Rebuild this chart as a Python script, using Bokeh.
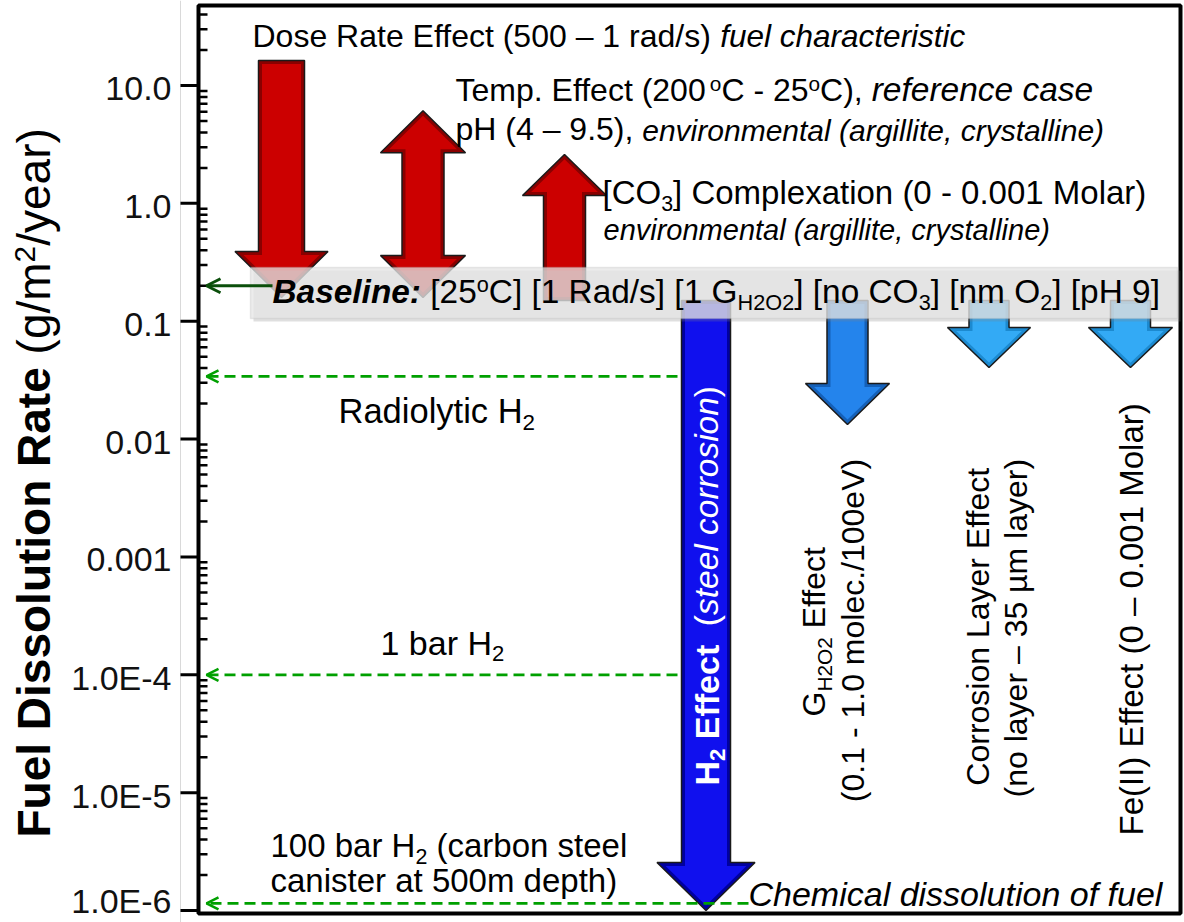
import math
from bokeh.plotting import figure
from bokeh.models import Range1d, Label, Arrow, OpenHead, BoxAnnotation, LogScale
from bokeh.embed import file_html
from bokeh.resources import INLINE

# ---------------- data ----------------
effects = ["Dose Rate Effect", "Temp. / pH Effect", "[CO3] Complexation", "H2 Effect",
           "G(H2O2) Effect", "Corrosion Layer Effect", "Fe(II) Effect"]
effect_pos = [0, 1, 2, 3, 4, 5, 6]
effect_high = [16.3, 6.1, 2.6, 0.15, 0.15, 0.15, 0.15]
effect_low = [0.159, 0.159, 0.15, 1.0e-6, 0.0133, 0.0405, 0.0405]
effect_dir = ["down", "both", "up", "down", "down", "down", "down"]
baseline_rate = 0.2
h2_cases = ["Radiolytic H2", "1 bar H2", "100 bar H2"]
h2_rates = [0.034, 1.0e-4, 1.15e-6]
tick_values = [1e-6, 1e-5, 1e-4, 1e-3, 1e-2, 1e-1, 1.0, 10.0]
tick_labels = ["1.0E-6", "1.0E-5", "1.0E-4", "0.001", "0.01", "0.1", "1.0", "10.0"]

# ---------------- layout (page pixels) ----------------
FIG_W, FIG_H = 1184, 922
PXU = 141.5          # px per category step
PX_C0 = 281          # page x of first category
PYD = 117.86         # px per decade
PY_10 = 85           # page y of the value 10
FONT = "Liberation Sans"
MID = 0.35           # baseline -> middle of the text box, in em


def X(px):
    return (px - PX_C0) / PXU


def Y(py):
    return 10 ** (1 - (py - PY_10) / PYD)


FR_L, FR_R, FR_T, FR_B = 198, 1180, 5, 913   # plot box

# arrow styles
SHAFT_PX = [46, 42, 42, 49, 41, 40, 40]
HEAD_PX = [93, 85, 84, 98, 84, 83, 84]
HEADLEN_PX = [46, 42, 41, 48, 41, 40, 40]
RIM = ["#8A0000", "#8A0000", "#8A0000", "#0000A0", "#1460B8", "#1C8AD0", "#1C8AD0"]
FILL = ["#CC0000", "#CC0000", "#CC0000", "#1010EE", "#2484EC", "#33AAF5", "#33AAF5"]


def arrow_shape(cx, lo, hi, kind, sw, hw, hl, d=0.0):
    alpha = math.atan2(hw, hl)
    ts = d / math.sin(alpha) if d else 0.0
    hl2 = hl - d - ts
    hw2 = hl2 * math.tan(alpha)
    sw2 = sw - d
    cu = cx * PXU
    vlo, vhi = math.log10(lo) * PYD, math.log10(hi) * PYD
    right = []
    if kind in ("up", "both"):
        t = vhi - ts
        b = t - hl2
        right += [(0.0, t), (hw2, b), (sw2, b)]
    else:
        right += [(sw2, vhi - d)]
    if kind in ("down", "both"):
        t = vlo + ts
        b = t + hl2
        right += [(sw2, b), (hw2, b), (0.0, t)]
    else:
        right += [(sw2, vlo + d)]
    left = [(-dx, v) for dx, v in reversed(right) if dx != 0.0]
    pts = right + left
    xs = [(cu + dx) / PXU for dx, v in pts]
    ys = [10 ** (v / PYD) for dx, v in pts]
    return xs, ys


# text widths (Arial / Liberation Sans metrics, 1/1000 em)
_REG = {' ': 278, '(': 333, ')': 333, ',': 278, '-': 333, '.': 278, '/': 278, ':': 278,
        '[': 278, ']': 278, '–': 556, 'µ': 556,
        'A': 667, 'B': 667, 'C': 722, 'D': 722, 'E': 667, 'F': 611, 'G': 778, 'H': 722,
        'I': 278, 'L': 556, 'M': 833, 'O': 778, 'R': 722, 'T': 611, 'V': 667,
        'a': 556, 'b': 556, 'c': 500, 'd': 556, 'e': 556, 'f': 278, 'g': 556, 'h': 556,
        'i': 222, 'l': 222, 'm': 833, 'n': 556, 'o': 556, 'p': 556, 'r': 333, 's': 500,
        't': 278, 'u': 556, 'v': 500, 'x': 500, 'y': 500}
_BOLD = {' ': 278, '(': 333, ')': 333, ':': 333, '[': 333, ']': 333, 'B': 722, 'D': 722,
         'E': 667, 'F': 611, 'H': 722, 'R': 722, 'a': 556, 'c': 556, 'e': 556, 'f': 333,
         'i': 278, 'l': 278, 'n': 611, 'o': 611, 's': 556, 't': 333, 'u': 611}


def tw(text, style, size):
    tbl = _BOLD if "bold" in style else _REG
    return sum(tbl.get(ch, 556) for ch in text) * size / 1000.0


def run(t, size, style="normal"):
    return (t, style, size, 0.0)


def sub(t, size, style="normal"):
    return (t, style, size * 0.65, -0.2 * size)


def sup(t, size, style="normal"):
    return (t, style, size * 0.65, 0.33 * size)


def add_rich(p, px, py, runs, color="black", vertical=False, center=False):
    """Place runs of text along a common baseline at page position (px, py)."""
    widths = [tw(t, st, sz) for t, st, sz, rise in runs]
    pos = -sum(widths) / 2 if center else 0.0
    for (t, st, sz, rise), w in zip(runs, widths):
        stripped = t.lstrip(" ")
        lead = tw(" " * (len(t) - len(stripped)), st, sz)
        s = stripped.rstrip(" ")
        if s:
            along = pos + lead
            up = rise + MID * sz
            if vertical:
                kw = dict(x_offset=-up, y_offset=along, angle=math.pi / 2)
            else:
                kw = dict(x_offset=along, y_offset=up)
            p.add_layout(Label(x=X(px), y=Y(py), text=s, text_font=FONT,
                               text_font_size=f"{sz:.1f}px", text_font_style=st,
                               text_color=color, text_baseline="middle",
                               text_align="left", **kw))
        pos += w


# ---------------- figure (frame = whole canvas) ----------------
p = figure(width=FIG_W, height=FIG_H, y_axis_type="log",
           x_range=Range1d(X(0), X(FIG_W)), y_range=Range1d(Y(FIG_H), Y(0)),
           x_axis_location=None, y_axis_location=None,
           output_backend="svg", toolbar_location=None,
           min_border_left=0, min_border_right=0, min_border_top=0, min_border_bottom=0)
p.y_scale = LogScale()
p.xgrid.visible = False
p.ygrid.visible = False
p.outline_line_color = None
p.background_fill_color = "white"
p.border_fill_color = "white"

# faint guide line left of the axis
p.segment(x0=[X(180)], y0=[Y(0)], x1=[X(180)], y1=[Y(FIG_H)], line_color="#D9D9D9", line_width=1)

# y axis: ticks and labels (log scale)
top_val, bot_val = Y(FR_T), Y(FR_B)
minor = [m * 10.0 ** d for d in range(-6, 2) for m in range(2, 10)]
minor = [v for v in minor if bot_val <= v <= top_val]
p.segment(x0=[X(FR_L)] * len(minor), y0=minor, x1=[X(FR_L + 9)] * len(minor), y1=minor,
          line_color="black", line_width=2.5)
p.segment(x0=[X(FR_L - 18)] * len(tick_values), y0=tick_values,
          x1=[X(FR_L)] * len(tick_values), y1=tick_values, line_color="black", line_width=3)
for v, lab in zip(tick_values, tick_labels):
    shift = -3 if v > bot_val * 2 else 10
    p.add_layout(Label(x=X(FR_L - 27), y=v, y_offset=shift, text=lab, text_font=FONT,
                       text_font_size="34px", text_color="#111111",
                       text_align="right", text_baseline="middle"))

# green dashed H2 arrows
h2_start_px = [677, 677, 748]
for rate, spx in zip(h2_rates, h2_start_px):
    p.add_layout(Arrow(end=OpenHead(size=12, line_color="#00A000", line_width=2.5),
                       x_start=X(spx), y_start=rate, x_end=X(FR_L + 8), y_end=rate,
                       line_color="#00A000", line_width=2.8, line_dash="11 6"))

# effect arrows
oxs, oys, ixs, iys = [], [], [], []
for i, (cx, lo, hi, kind) in enumerate(zip(effect_pos, effect_low, effect_high, effect_dir)):
    xs, ys = arrow_shape(cx, lo, hi, kind, SHAFT_PX[i] / 2, HEAD_PX[i] / 2, HEADLEN_PX[i])
    oxs.append(xs); oys.append(ys)
    xs, ys = arrow_shape(cx, lo, hi, kind, SHAFT_PX[i] / 2, HEAD_PX[i] / 2, HEADLEN_PX[i], d=3.5)
    ixs.append(xs); iys.append(ys)
p.patches(oxs, oys, fill_color=RIM, line_color="#1A1A1A", line_width=1.5)
p.patches(ixs, iys, fill_color=FILL, line_color=None)

# plot box
p.quad(left=[X(FR_L)], right=[X(FR_R)], top=[Y(FR_T)], bottom=[Y(FR_B)],
       fill_color=None, line_color="black", line_width=4)

# baseline box with shadow
p.add_layout(BoxAnnotation(left=X(253), right=X(1180), top=Y(270), bottom=Y(321),
                           fill_color="#808080", fill_alpha=0.25, line_color=None))
p.add_layout(BoxAnnotation(left=X(250), right=X(1177), top=Y(267), bottom=Y(318),
                           fill_color="#E6E6E6", fill_alpha=0.75,
                           line_color="#B8B8B8", line_width=1.5))
p.add_layout(Arrow(end=OpenHead(size=14, line_color="#0B4F0B", line_width=3),
                   x_start=X(272), y_start=baseline_rate, x_end=X(FR_L + 8), y_end=baseline_rate,
                   line_color="#0B4F0B", line_width=3))

# ---------------- texts ----------------
F = 32
add_rich(p, 252, 47, [run("Dose Rate Effect (500 – 1 rad/s) ", F),
                      run("fuel characteristic", 31.5, "italic")])
add_rich(p, 455, 101, [run("Temp. Effect (200", F), sup("o", F), run("C - 25", F), sup("o", F),
                       run("C), ", F), run("reference case", 33.5, "italic")])
add_rich(p, 455, 140, [run("pH (4 – 9.5), ", F),
                       run("environmental (argillite, crystalline)", 30, "italic")])
add_rich(p, 602, 204, [run("[CO", 33), sub("3", 33), run("] Complexation (0 - 0.001 Molar)", 33)])
add_rich(p, 603, 240, [run("environmental (argillite, crystalline)", 29, "italic")])
B = 33.4
add_rich(p, 272, 303, [run("Baseline:", B, "bold italic"), run(" [25", B), sup("o", B),
                       run("C] [1 Rad/s] [1 G", B), sub("H2O2", B), run("] [no CO", B),
                       sub("3", B), run("] [nm O", B), sub("2", B), run("] [pH 9]", B)])
add_rich(p, 338, 423, [run("Radiolytic H", 34.5), sub("2", 34.5)])
add_rich(p, 380, 654, [run("1 bar H", 34), sub("2", 34)])
add_rich(p, 270, 857, [run("100 bar H", 33), sub("2", 33), run(" (carbon steel", 33)])
add_rich(p, 270, 892, [run("canister at 500m depth)", 33)])
add_rich(p, 748, 905, [run("Chemical dissolution of fuel", 34, "italic")])

# vertical texts
add_rich(p, 718, 785, [run("H", 34, "bold"), sub("2", 34, "bold"), run(" Effect", 34, "bold"),
                       run("  (", 33.5), run("steel corrosion", 33.5, "italic"), run(")", 33.5)],
         color="white", vertical=True)
add_rich(p, 825, 631, [run("G", F), sub("H2O2", F), run(" Effect", F)], vertical=True, center=True)
add_rich(p, 864, 630, [run("(0.1 - 1.0 molec./100eV)", F)], vertical=True, center=True)
add_rich(p, 989, 626, [run("Corrosion Layer Effect", F)], vertical=True, center=True)
add_rich(p, 1027, 628, [run("(no layer – 35 µm layer)", F)], vertical=True, center=True)
add_rich(p, 1143, 614, [run("Fe(II)  Effect (0 – 0.001 Molar)", 33)], vertical=True, center=True)

# y-axis title
T = 46
add_rich(p, 50, 837, [run("Fuel Dissolution Rate", T, "bold"), run(" (g/m", T), sup("2", T),
                      run("/year)", T)], vertical=True)

open("out.html", "w").write(file_html(p, INLINE))
